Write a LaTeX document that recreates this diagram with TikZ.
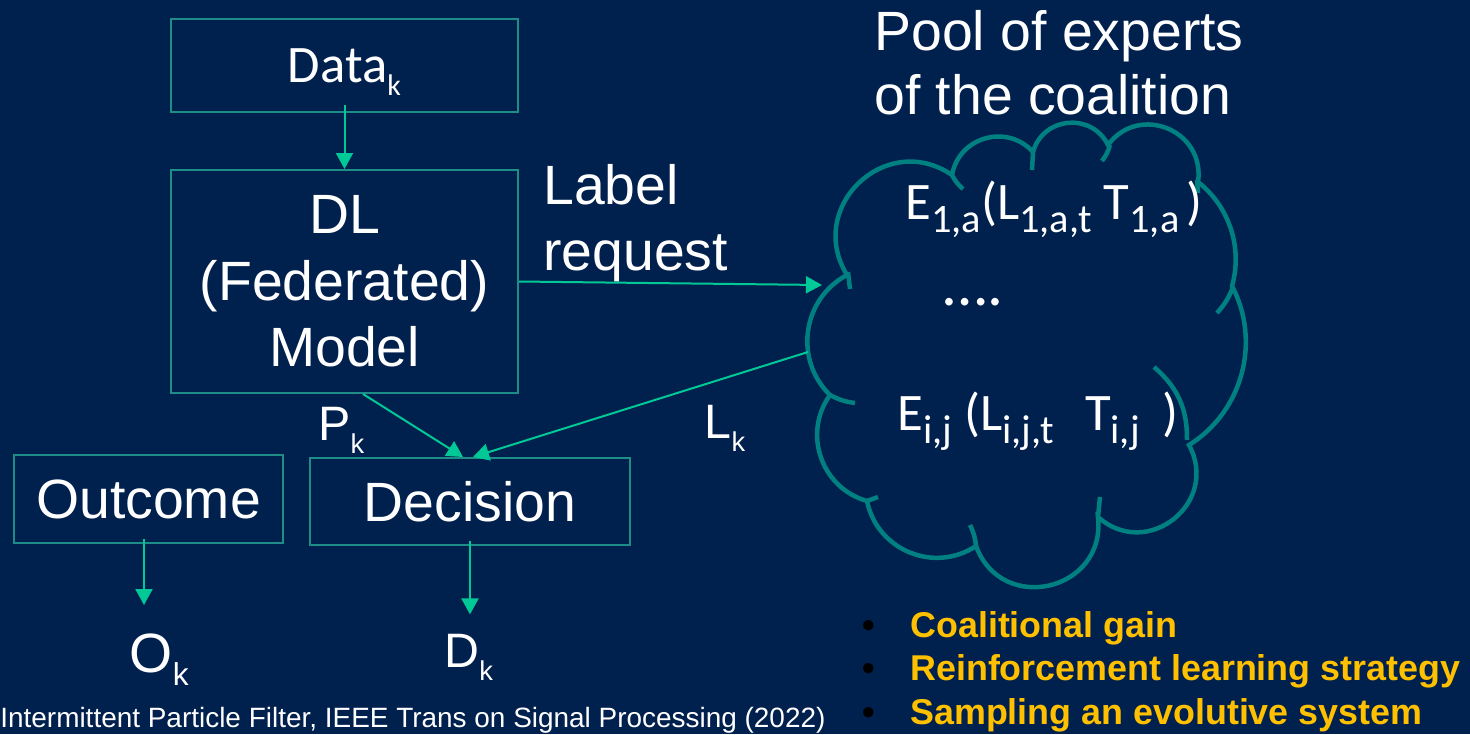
\documentclass[tikz,border=0pt]{standalone}
\usepackage{fontspec}
\setmainfont{Liberation Sans}
\newfontfamily\calibri{Carlito}
\usetikzlibrary{arrows.meta,positioning}

\definecolor{slidebg}{RGB}{0,32,78}
\definecolor{boxteal}{RGB}{30,140,135}
\definecolor{flowgreen}{RGB}{0,200,150}
\definecolor{cloudteal}{RGB}{0,128,128}
\definecolor{gold}{RGB}{255,192,0}

\newcommand{\subk}[2]{\raisebox{-0.27cm}{\fontsize{#1}{#1}\selectfont #2}}
\newcommand{\bul}{\makebox[0.96cm][l]{\color{black}\textbullet}}

\begin{document}
\begin{tikzpicture}[>={Triangle[width=0.34cm,length=0.32cm]},
    box node/.style={draw=boxteal,line width=0.04cm,inner sep=0,text=white,align=center,font=\fontsize{31.5}{37.8}\selectfont},
    big text/.style={text=white,inner sep=0,font=\fontsize{31.5}{37.8}\selectfont},
    expert/.style={text=white,inner sep=0,anchor=base west,font=\calibri\fontsize{30}{36}\selectfont},
    cloud line/.style={draw=cloudteal,line width=0.09cm},
    flow/.style={->,color=flowgreen,line width=0.04cm}]

    \fill[slidebg] (0,0) rectangle (29.4,-14.68);
    \useasboundingbox (0,0) rectangle (29.4,-14.68);

    % left column
    \node[box node, minimum width=6.94cm, minimum height=1.86cm, text depth=0pt,
          font=\calibri\fontsize{30}{36}\selectfont] (data) at (6.89,-1.31) {Data\subk{17}{k}};
    \node[box node, minimum width=6.94cm, minimum height=4.46cm] (model) at (6.89,-5.63) {DL\\(Federated)\\Model};
    \node[box node, minimum width=5.38cm, minimum height=1.76cm] (outcome) at (2.97,-9.98) {Outcome};
    \node[box node, minimum width=6.40cm, minimum height=1.74cm] (decision) at (9.40,-10.03) {Decision};

    \node[big text, anchor=base west] (ok) at (2.59,-13.44) {O\subk{18}{k}};
    \node[big text, anchor=base west, font=\fontsize{27.5}{33}\selectfont] (dk) at (8.88,-13.34) {D\subk{15.5}{k}};
    \node[big text, anchor=base west, font=\fontsize{27.5}{33}\selectfont] (pk) at (6.36,-8.80) {P\subk{15.5}{k}};
    \node[big text, anchor=base west, font=\fontsize{27.5}{33}\selectfont] (lk) at (14.09,-8.76) {L\subk{15.5}{k}};

    \node[big text, anchor=north west, align=left] (request) at (10.86,-3.28) {Label\\request};

    % pool of experts
    \node[big text, anchor=north west, align=left, font=\fontsize{31.5}{36.4}\selectfont] (title) at (17.48,-0.20) {Pool of experts\\of the coalition};

    \draw[cloud line] (16.94,-5.50) to[bend left=78, looseness=1.41] (19.04,-3.50)
        to[bend left=64, looseness=1.18] (20.66,-3.04)
        to[bend left=69, looseness=1.25] (22.16,-2.90)
        to[bend left=76, looseness=1.37] (23.96,-3.64)
        to[bend left=34, looseness=0.93] (24.64,-5.72)
        to[bend left=43, looseness=0.98] (23.78,-8.90)
        to[bend left=80, looseness=1.45] (21.96,-10.34)
        to[bend left=83, looseness=1.52] (19.52,-10.92)
        to[bend left=56, looseness=1.09] (17.34,-10.02)
        to[bend left=55, looseness=1.08] (16.60,-7.90)
        to[bend left=54, looseness=1.07] (16.94,-5.50);
    % inner arcs of the cloud
    \draw[cloud line] (16.96,-5.44) -- (17.00,-5.78)
        (19.04,-3.50) to[bend right=10] (19.26,-3.78)
        (20.66,-3.04) -- (20.64,-3.40)
        (22.20,-2.90) to[bend left=10] (22.04,-3.22)
        (23.94,-3.60) -- (23.96,-3.86)
        (24.66,-5.74) to[bend left=10] (24.34,-6.26)
        (23.08,-7.34) to[bend left=25] (23.74,-8.80)
        (21.96,-10.34) -- (22.00,-9.94)
        (19.52,-10.92) to[bend right=10] (19.40,-10.50)
        (17.34,-10.02) -- (17.56,-9.94)
        (16.60,-7.90) to[bend right=10] (17.10,-8.06);
    \coordinate (poolin) at (16.44,-5.70);
    \coordinate (poolout) at (16.16,-7.04);

    \node[expert] (e1) at (18.10,-4.38) {E\subk{23}{1,a}(L\subk{23}{1,a,t} T\subk{23}{1,a}\hspace{0.15cm})};
    \node[expert, font=\calibri\fontsize{36}{40}\selectfont] (dots) at (18.86,-6.10) {….};
    \node[expert] (eij) at (17.94,-8.60) {E\subk{23}{i,j} (L\subk{23}{i,j,t}\hspace{0.62cm}T\subk{23}{i,j}\hspace{0.46cm})};

    \node[text=gold, inner sep=0, anchor=north west, align=left,
          font=\bfseries\fontsize{20.4}{24.7}\selectfont] (gains) at (17.24,-12.22)
          {\bul Coalitional gain\\\bul Reinforcement learning strategy\\\bul Sampling an evolutive system};

    \node[text=white, inner sep=0, anchor=base west, font=\fontsize{15.9}{19}\selectfont] (ref) at (0,-14.54)
          {Intermittent Particle Filter, IEEE Trans on Signal Processing (2022)};

    \path[flow]
        ([yshift=0.16cm]data.south) edge (model.north)
        (model.east) edge (poolin)
        ([xshift=0.37cm]model.south) edge ([xshift=-0.14cm]decision.north)
        (poolout) edge ([xshift=0.06cm]decision.north)
        ([xshift=-0.09cm,yshift=0.1cm]outcome.south) edge[shorten >=0.56cm] ([xshift=-0.09cm]outcome.south |- ok.north)
        ([yshift=0.1cm]decision.south) edge[shorten >=0.38cm] (decision.south |- dk.north)
    ;
\end{tikzpicture}
\end{document}
